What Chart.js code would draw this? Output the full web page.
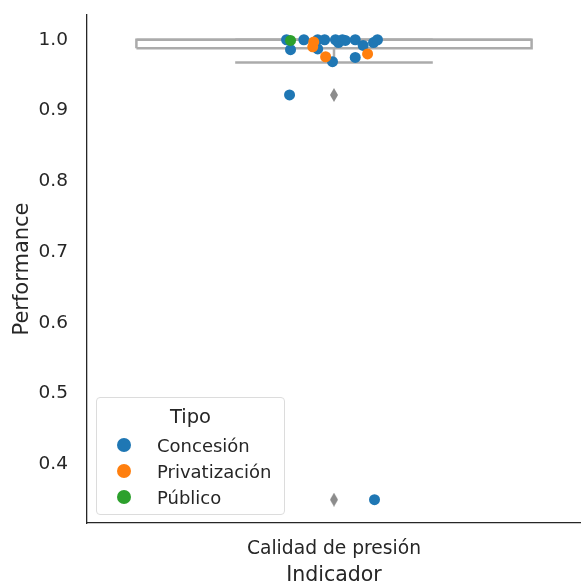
<!DOCTYPE html>
<html>
<head>
<meta charset="utf-8">
<script src="https://cdn.jsdelivr.net/npm/chart.js@4"></script>
<style>
  html, body { margin: 0; padding: 0; background: #fff; }
  #wrap { position: relative; width: 581px; height: 583px; }
  #legend {
    position: absolute; left: 96px; top: 397px; width: 189px; height: 118px;
    border: 1px solid #dcdcdc; border-radius: 4px; background: rgba(255,255,255,0.85);
    font-family: 'DejaVu Sans', sans-serif; color: #262626; box-sizing: border-box;
  }
  #legend .title { text-align: center; font-size: 19.5px; height: 22px; margin-top: 7px; margin-bottom: 5px; }
  #legend .row { display: flex; align-items: center; height: 26px; font-size: 18px; white-space: nowrap; }
  #legend .dot { width: 14px; height: 14px; border-radius: 50%; margin-left: 20px; margin-right: 26px; flex: none; }
</style>
</head>
<body>
<div id="wrap">
  <canvas id="chart" width="581" height="583"></canvas>
  <div id="legend"></div>
</div>
<script>
// Datos
const categories = ['Calidad de presión'];
const yTicks = [0.4, 0.5, 0.6, 0.7, 0.8, 0.9, 1.0];

// resumen del boxplot
const boxQ1 = 0.988;
const boxMedian = 1.0;
const boxQ3 = 1.0;
const whiskerLow = 0.968;
const whiskerHigh = 1.0;
const outliers = [0.922, 0.350];

// puntos (jitter horizontal)
const concesionJitter = [-0.096, -0.088, -0.061, -0.033, -0.033, -0.019, -0.003, 0.003, 0.009, 0.017, 0.023, 0.043, 0.043, 0.059, 0.080, 0.088, -0.090, 0.082];
const concesionValues = [1.0, 0.986, 1.0, 1.0, 0.987, 1.0, 0.969, 1.0, 0.996, 1.0, 0.999, 1.0, 0.975, 0.992, 0.996, 1.0, 0.922, 0.350];
const privatizacionJitter = [-0.041, -0.043, -0.017, 0.068];
const privatizacionValues = [0.997, 0.990, 0.976, 0.980];
const publicoJitter = [-0.088];
const publicoValues = [0.999];

const tipos = ['Concesión', 'Privatización', 'Público'];
const COLORS = { blue: '#1f77b4', orange: '#ff7f0e', green: '#2ca02c', box: '#ababab', text: '#262626', flier: '#8c8c8c' };
const tipoColors = [COLORS.blue, COLORS.orange, COLORS.green];

const FONT = "'DejaVu Sans', sans-serif";

// diamante fino para los outliers
function thinDiamond() {
  const c = document.createElement('canvas');
  c.width = 8; c.height = 14;
  const g = c.getContext('2d');
  g.fillStyle = COLORS.flier;
  g.beginPath();
  g.moveTo(4, 0); g.lineTo(8, 7); g.lineTo(4, 14); g.lineTo(0, 7);
  g.closePath(); g.fill();
  return c;
}

function pts(xs, ys) { return ys.map((v, i) => ({ x: xs[i], y: v })); }
function lineDs(data, order, width) {
  return { type: 'line', data, borderColor: COLORS.box, borderWidth: width || 2.5, pointRadius: 0, fill: false, showLine: true, order };
}

const datasets = [
  { label: tipos[0], data: pts(concesionJitter, concesionValues), backgroundColor: COLORS.blue, borderColor: COLORS.blue, pointRadius: 5.5, borderWidth: 0, order: 3 },
  { label: tipos[1], data: pts(privatizacionJitter, privatizacionValues), backgroundColor: COLORS.orange, borderColor: COLORS.orange, pointRadius: 5.5, borderWidth: 0, order: 2 },
  { label: tipos[2], data: pts(publicoJitter, publicoValues), backgroundColor: COLORS.green, borderColor: COLORS.green, pointRadius: 5.5, borderWidth: 0, order: 1 },
  lineDs([{ x: -0.4, y: boxQ1 }, { x: 0.4, y: boxQ1 }, { x: 0.4, y: boxQ3 }, { x: -0.4, y: boxQ3 }, { x: -0.4, y: boxQ1 }], 10),
  lineDs([{ x: -0.4, y: boxMedian }, { x: 0.4, y: boxMedian }], 10),
  lineDs([{ x: 0, y: boxQ1 }, { x: 0, y: whiskerLow }], 10),
  lineDs([{ x: -0.2, y: whiskerLow }, { x: 0.2, y: whiskerLow }], 10),
  lineDs([{ x: 0, y: boxQ3 }, { x: 0, y: whiskerHigh }], 10),
  lineDs([{ x: -0.2, y: whiskerHigh }, { x: 0.2, y: whiskerHigh }], 10),
  { label: 'outliers', data: outliers.map(v => ({ x: 0, y: v })), pointStyle: thinDiamond(), pointRadius: 7, order: 9 }
];

new Chart(document.getElementById('chart').getContext('2d'), {
  type: 'scatter',
  data: { datasets },
  options: {
    responsive: false,
    animation: false,
    clip: false,
    layout: { autoPadding: false, padding: { top: 15, right: 0, left: 0, bottom: 0 } },
    plugins: { legend: { display: false }, tooltip: { enabled: false } },
    scales: {
      x: {
        type: 'linear', min: -0.5, max: 0.5,
        grid: { display: false, drawTicks: false },
        border: { display: true, color: COLORS.text, width: 1.3 },
        afterBuildTicks: s => { s.ticks = categories.map((c, i) => ({ value: i })); },
        afterFit: s => { s.height = 60; s.paddingLeft = 0; s.paddingRight = 0; },
        ticks: { color: COLORS.text, font: { family: FONT, size: 18.7 }, padding: 15, callback: (v) => categories[v] },
        title: { display: true, text: 'Indicador', color: COLORS.text, font: { family: FONT, size: 20.5 }, padding: { top: 0, bottom: -5 } }
      },
      y: {
        min: 0.317, max: 1.035,
        grid: { display: false, drawTicks: false },
        border: { display: true, color: COLORS.text, width: 1.3 },
        afterBuildTicks: s => { s.ticks = yTicks.map(v => ({ value: v })); },
        afterFit: s => { s.width = 87; s.paddingTop = 0; s.paddingBottom = 0; },
        ticks: { color: COLORS.text, font: { family: FONT, size: 18.5 }, padding: 19, callback: v => v.toFixed(1) },
        title: { display: true, text: 'Performance', color: COLORS.text, font: { family: FONT, size: 21 }, padding: { top: 10, bottom: 0 } }
      }
    }
  }
});

// leyenda dentro del área
const legend = document.getElementById('legend');
legend.innerHTML = '<div class="title">Tipo</div>' + tipos.map((t, i) =>
  '<div class="row"><span class="dot" style="background:' + tipoColors[i] + '"></span>' + t + '</div>').join('');
</script>
</body>
</html>
